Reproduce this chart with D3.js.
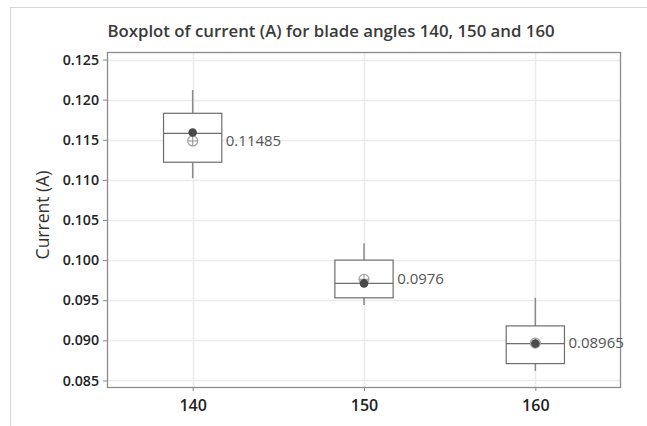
<!DOCTYPE html>
<html><head><meta charset="utf-8">
<script src="https://cdn.jsdelivr.net/npm/d3@7"></script>
<style>body{margin:0;background:#fff;}svg{display:block;}</style>
</head><body>
<script>
const categories = [140, 150, 160];
const q1 = [0.1122, 0.0953, 0.0871];
const medians = [0.1158, 0.0971, 0.0896];
const q3 = [0.1183, 0.1000, 0.0918];
const whiskerLow = [0.1102, 0.0944, 0.0862];
const whiskerHigh = [0.1212, 0.1021, 0.0953];
const means = [0.11485, 0.0976, 0.08965];
const meanLabels = ["0.11485", "0.0976", "0.08965"];
const dots = [0.1159, 0.0971, 0.0896];
const yTicks = [0.085, 0.090, 0.095, 0.100, 0.105, 0.110, 0.115, 0.120, 0.125];
const xTicks = [140, 150, 160];

const W = 647, H = 426;
const m = {left: 107, right: 621, top: 52, bottom: 388};
const svg = d3.select("body").append("svg").attr("width", W).attr("height", H);
const font = "'Open Sans', 'Noto Sans', sans-serif";

// outer frame
svg.append("rect").attr("x", 10.5).attr("y", 7.5).attr("width", 700).attr("height", 500)
  .attr("fill", "none").attr("stroke", "#d4d4d4").attr("stroke-width", 1);

const x = d3.scaleLinear().domain([135, 165]).range([m.left, m.right]);
const y = d3.scaleLinear().domain([0.08406, 0.12594]).range([m.bottom, m.top]);

// gridlines
svg.append("g").selectAll("line").data(yTicks).join("line")
  .attr("x1", m.left).attr("x2", m.right)
  .attr("y1", d => Math.round(y(d)) + 0.5).attr("y2", d => Math.round(y(d)) + 0.5)
  .attr("stroke", "#ebebeb").attr("stroke-width", 1.5);
svg.append("g").selectAll("line").data(xTicks).join("line")
  .attr("y1", m.top).attr("y2", m.bottom)
  .attr("x1", d => Math.round(x(d)) + 0.5).attr("x2", d => Math.round(x(d)) + 0.5)
  .attr("stroke", "#ebebeb").attr("stroke-width", 1.5);

// axes
const yAxis = svg.append("g").attr("transform", `translate(${m.left},0)`)
  .call(d3.axisLeft(y).tickValues(yTicks).tickFormat(d3.format(".3f")).tickSize(4).tickPadding(4));
yAxis.select(".domain").remove();
yAxis.selectAll(".tick line").attr("stroke", "#888");
yAxis.selectAll("text").attr("font-family", font).attr("font-size", 14.2).attr("font-weight", 600).attr("fill", "#222");

const xAxis = svg.append("g").attr("transform", `translate(0,${m.bottom})`)
  .call(d3.axisBottom(x).tickValues(xTicks).tickFormat(d3.format("d")).tickSize(3).tickPadding(9));
xAxis.select(".domain").remove();
xAxis.selectAll(".tick line").attr("stroke", "#888");
xAxis.selectAll("text").attr("font-family", font).attr("font-size", 16).attr("font-weight", 600).attr("fill", "#222");

// plot frame
svg.append("rect").attr("x", m.left + 0.5).attr("y", m.top + 0.5)
  .attr("width", m.right - m.left - 1).attr("height", m.bottom - m.top - 1)
  .attr("fill", "none").attr("stroke", "#8c8c8c").attr("stroke-width", 1.3);

// boxes
const hw = 1.7;
const g = svg.append("g");
categories.forEach((c, i) => {
  const cx = x(c);
  g.append("line").attr("x1", cx).attr("x2", cx).attr("y1", y(whiskerHigh[i])).attr("y2", y(q3[i]))
    .attr("stroke", "#8a8a8a").attr("stroke-width", 1.5);
  g.append("line").attr("x1", cx).attr("x2", cx).attr("y1", y(q1[i])).attr("y2", y(whiskerLow[i]))
    .attr("stroke", "#8a8a8a").attr("stroke-width", 1.5);
  g.append("rect").attr("x", x(c - hw)).attr("width", x(c + hw) - x(c - hw))
    .attr("y", y(q3[i])).attr("height", y(q1[i]) - y(q3[i]))
    .attr("fill", "#fff").attr("stroke", "#6e6e6e").attr("stroke-width", 1.2);
  g.append("line").attr("x1", x(c - hw)).attr("x2", x(c + hw)).attr("y1", y(medians[i])).attr("y2", y(medians[i]))
    .attr("stroke", "#6e6e6e").attr("stroke-width", 1.2);
  // mean symbol
  const my = y(means[i]);
  g.append("circle").attr("cx", cx).attr("cy", my).attr("r", 5)
    .attr("fill", "none").attr("stroke", "#a0a0a0").attr("stroke-width", 1.2);
  g.append("line").attr("x1", cx - 5).attr("x2", cx + 5).attr("y1", my).attr("y2", my).attr("stroke", "#a0a0a0").attr("stroke-width", 1.2);
  g.append("line").attr("x1", cx).attr("x2", cx).attr("y1", my - 5).attr("y2", my + 5).attr("stroke", "#a0a0a0").attr("stroke-width", 1.2);
  // filled dot
  g.append("circle").attr("cx", cx).attr("cy", y(dots[i])).attr("r", 4.3).attr("fill", "#4a4a4a");
  // label
  g.append("text").attr("x", x(c + hw) + 4).attr("y", my + 1).attr("dominant-baseline", "middle")
    .attr("font-family", font).attr("font-size", 15).attr("fill", "#555").text(meanLabels[i]);
});

// title
svg.append("text").attr("x", 331).attr("y", 37).attr("text-anchor", "middle")
  .attr("font-family", font).attr("font-size", 16.8).attr("font-weight", 600).attr("fill", "#3a3a3a")
  .text("Boxplot of current (A) for blade angles 140, 150 and 160");

// y axis title
svg.append("text").attr("transform", `translate(49,215) rotate(-90)`)
  .attr("text-anchor", "middle").attr("font-family", font).attr("font-size", 17.5).attr("fill", "#333")
  .text("Current (A)");
</script>
</body></html>
